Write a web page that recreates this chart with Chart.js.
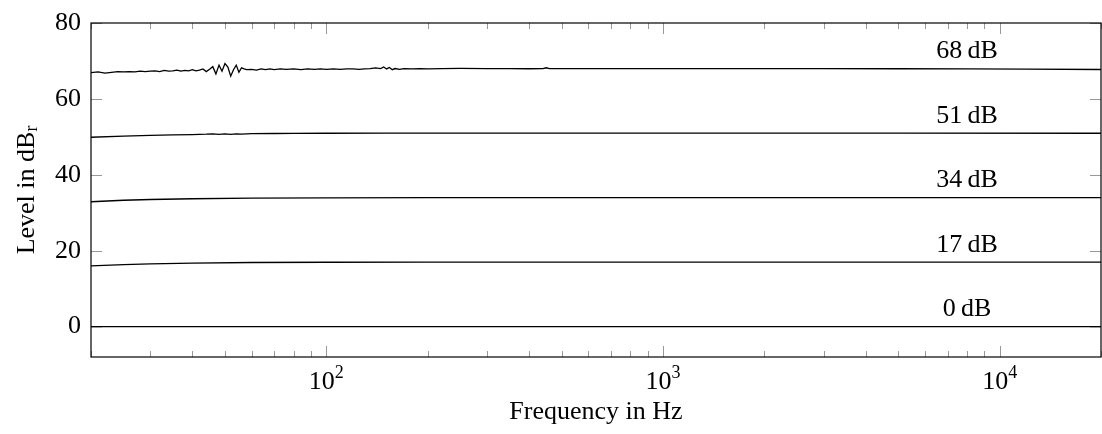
<!DOCTYPE html>
<html>
<head>
<meta charset="utf-8">
<script src="https://cdn.jsdelivr.net/npm/chart.js@4/dist/chart.umd.min.js"></script>
<style>
  body { margin: 0; background: #fff; }
  #wrap { width: 1102px; height: 434px; }
</style>
</head>
<body>
<div id="wrap"><canvas id="levels" width="1102" height="434"></canvas></div>
<script>
// measured level curves, frequency in Hz and level in dB
var freq68 = [20, 21, 22, 23, 24, 25, 26, 27, 28, 29, 30, 31, 32, 33, 34, 35, 36, 37, 38, 39, 40,
  41, 42, 43, 44, 45, 46, 47, 48, 49, 50, 51, 52, 53, 54, 55, 56, 57, 58, 60, 62, 64, 66, 68, 70,
  73, 76, 80, 84, 88, 92, 96, 100, 105, 110, 115, 120, 125, 130, 135, 140, 145, 148, 151, 154,
  157, 160, 165, 170, 180, 190, 200, 220, 250, 300, 350, 400, 440, 450, 460, 500, 600, 800,
  1000, 2000, 3000, 5000, 8000, 12000, 20000];
var lvl68 = [66.9, 67.1, 66.8, 67.0, 67.2, 67.1, 67.2, 67.1, 67.3, 67.2, 67.3, 67.4, 67.2, 67.5,
  67.3, 67.4, 67.6, 67.3, 67.5, 67.4, 67.7, 67.4, 67.6, 67.9, 67.2, 67.8, 68.5, 66.6, 68.9, 67.3,
  69.3, 68.4, 66.0, 67.7, 68.9, 67.0, 68.2, 67.9, 67.7, 67.8, 67.6, 67.9, 67.7, 67.9, 67.7, 67.9,
  67.8, 67.9, 67.7, 67.9, 67.8, 67.9, 67.8, 67.9, 67.8, 67.9, 67.9, 67.8, 67.9, 68.0, 68.2, 68.0,
  68.4, 67.9, 68.3, 67.7, 68.0, 67.8, 68.0, 67.9, 68.0, 67.9, 68.0, 68.05, 68.0, 68.0, 67.95, 68.0,
  68.2, 68.0, 68.0, 68.0, 68.0, 68.0, 68.0, 68.0, 67.95, 67.9, 67.85, 67.75];

var freq51 = [20, 25, 30, 35, 40, 44, 46, 48, 50, 52, 54, 56, 60, 70, 80, 100, 150, 200, 500, 1000, 5000, 20000];
var lvl51 = [49.9, 50.2, 50.4, 50.5, 50.6, 50.7, 50.8, 50.65, 50.8, 50.65, 50.8, 50.7, 50.85, 50.88, 50.9, 50.95, 51.0, 51.0, 51.0, 51.0, 51.0, 50.95];

var freqSmooth = [20, 25, 30, 40, 60, 100, 200, 1000, 20000];
var lvl34 = [32.9, 33.3, 33.5, 33.7, 33.85, 33.95, 34.0, 34.0, 34.0];
var lvl17 = [16.0, 16.35, 16.55, 16.75, 16.9, 16.97, 17.0, 17.0, 17.0];
var lvl0 = [0, 0, 0, 0, 0, 0, 0, 0, 0];

var curveLabels = ['68\u2009dB', '51\u2009dB', '34\u2009dB', '17\u2009dB', '0\u2009dB'];
var curveLevels = [68, 51, 34, 17, 0];
var labelFreq = 8000;

var xTicks = [100, 1000, 10000];
var xTickExp = ['2', '3', '4'];
var yTicks = [0, 20, 40, 60, 80];

var FONT = '"Liberation Serif", "Times New Roman", serif';
var BIG = '26px ' + FONT;
var SMALL = '18px ' + FONT;

function pts(fs, ls) {
  return fs.map(function (f, i) { return { x: f, y: ls[i] }; });
}

function curve(fs, ls) {
  return {
    data: pts(fs, ls),
    borderColor: '#000',
    borderWidth: 1.3,
    pointRadius: 0,
    tension: 0,
    fill: false
  };
}

// frame, inward ticks, tick labels, titles and curve labels
var decor = {
  id: 'decor',
  afterDatasetsDraw: function (chart) {
    var ctx = chart.ctx, a = chart.chartArea;
    var sx = chart.scales.x, sy = chart.scales.y;
    ctx.save();

    // minor x ticks
    ctx.strokeStyle = '#999';
    ctx.lineWidth = 1;
    ctx.beginPath();
    for (var d = 10; d <= 10000; d *= 10) {
      for (var m = 2; m <= 9; m++) {
        var v = d * m;
        if (v < 20 || v > 20000) continue;
        var px = Math.round(sx.getPixelForValue(v)) + 0.5;
        ctx.moveTo(px, a.bottom); ctx.lineTo(px, a.bottom - 6);
        ctx.moveTo(px, a.top); ctx.lineTo(px, a.top + 6);
      }
    }
    ctx.stroke();

    // major ticks
    ctx.beginPath();
    xTicks.forEach(function (v) {
      var px = Math.round(sx.getPixelForValue(v)) + 0.5;
      ctx.moveTo(px, a.bottom); ctx.lineTo(px, a.bottom - 11);
      ctx.moveTo(px, a.top); ctx.lineTo(px, a.top + 11);
    });
    yTicks.forEach(function (v) {
      var py = Math.round(sy.getPixelForValue(v)) + 0.5;
      ctx.moveTo(a.left, py); ctx.lineTo(a.left + 11, py);
      ctx.moveTo(a.right, py); ctx.lineTo(a.right - 11, py);
    });
    ctx.stroke();

    // frame
    ctx.strokeStyle = '#000';
    ctx.lineWidth = 1.2;
    ctx.strokeRect(a.left, a.top, a.right - a.left, a.bottom - a.top);

    ctx.fillStyle = '#000';

    // y tick labels
    ctx.font = BIG;
    ctx.textAlign = 'right';
    ctx.textBaseline = 'middle';
    yTicks.forEach(function (v) {
      ctx.fillText(String(v), a.left - 10, sy.getPixelForValue(v));
    });

    // x tick labels with exponent
    ctx.textBaseline = 'alphabetic';
    ctx.textAlign = 'left';
    xTicks.forEach(function (v, i) {
      ctx.font = BIG;
      var wb = ctx.measureText('10').width;
      ctx.font = SMALL;
      var we = ctx.measureText(xTickExp[i]).width;
      var x0 = sx.getPixelForValue(v) - (wb + we) / 2;
      ctx.font = BIG;
      ctx.fillText('10', x0, a.bottom + 32);
      ctx.font = SMALL;
      ctx.fillText(xTickExp[i], x0 + wb, a.bottom + 21);
    });

    // curve labels
    ctx.font = BIG;
    ctx.textAlign = 'center';
    ctx.textBaseline = 'middle';
    curveLabels.forEach(function (t, i) {
      ctx.fillText(t, sx.getPixelForValue(labelFreq), sy.getPixelForValue(curveLevels[i]) - 17);
    });

    // axis titles
    ctx.fillText('Frequency in Hz', (a.left + a.right) / 2, 412);

    ctx.translate(27, (a.top + a.bottom) / 2);
    ctx.rotate(-Math.PI / 2);
    ctx.font = BIG;
    var wt = ctx.measureText('Level in dB').width;
    ctx.font = SMALL;
    var wr = ctx.measureText('r').width;
    ctx.textAlign = 'left';
    ctx.font = BIG;
    ctx.fillText('Level in dB', -(wt + wr) / 2, 0);
    ctx.font = SMALL;
    ctx.fillText('r', -(wt + wr) / 2 + wt, 5);

    ctx.restore();
  }
};

new Chart(document.getElementById('levels').getContext('2d'), {
  type: 'line',
  data: {
    datasets: [
      curve(freqSmooth, lvl0),
      curve(freqSmooth, lvl17),
      curve(freqSmooth, lvl34),
      curve(freq51, lvl51),
      curve(freq68, lvl68)
    ]
  },
  options: {
    responsive: false,
    animation: false,
    devicePixelRatio: 1,
    layout: { padding: { left: 91, top: 23, right: 1, bottom: 77 } },
    plugins: { legend: { display: false }, tooltip: { enabled: false } },
    scales: {
      x: { type: 'logarithmic', min: 20, max: 20000, display: false },
      y: { type: 'linear', min: -8, max: 80, display: false }
    }
  },
  plugins: [decor]
});
</script>
</body>
</html>
